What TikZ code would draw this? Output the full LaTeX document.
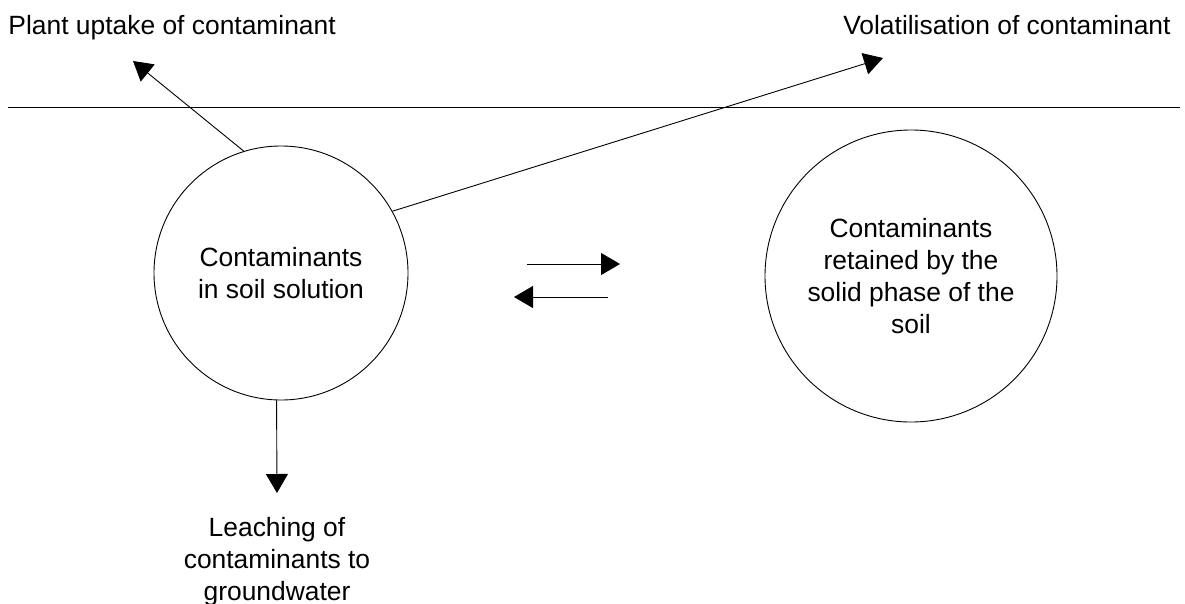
\documentclass[tikz,border=0pt]{standalone}
\usepackage{fontspec}
\setmainfont{Liberation Sans}
\usetikzlibrary{arrows.meta}
\tikzset{
  lbl/.style={font=\fontsize{26.4}{32}\selectfont, inner sep=0pt, align=center},
  pool/.style={circle, draw, lbl},
  flow/.style={-{Triangle[length=19pt,width=22pt]}}
}
\begin{document}
\begin{tikzpicture}[x=1pt,y=-1pt,line width=0.9pt]
\useasboundingbox (0,0) rectangle (1185,603);
\node[pool,minimum size=254pt] (S) at (281,273) {Contaminants\\in soil solution};
\node[pool,minimum size=292pt] (R) at (911,276) {Contaminants\\retained by the\\solid phase of the\\soil};
\node[lbl,anchor=base west] (P) at (8,34) {Plant uptake of contaminant};
\node[lbl,anchor=base east] (V) at (1171,34) {Volatilisation of contaminant};
\node[lbl,anchor=base] (L) at (277,600) {Leaching of\\contaminants to\\groundwater};
\coordinate (G1) at (8,107);
\coordinate (G2) at (1180,107);
\coordinate (P1) at (133,61);
\coordinate (V1) at (883,58);
\coordinate (L1) at (277,493);
\coordinate (F1) at (527,264);
\coordinate (F2) at (620,264);
\coordinate (B1) at (608,297);
\coordinate (B2) at (514,297);
\draw (G1) -- (G2);
\path
  (S.107) edge[flow] (P1)
  (S.29) edge[flow] (V1)
  (S.268) edge[flow] (L1)
  (F1) edge[flow] (F2)
  (B1) edge[flow] (B2)
;
\end{tikzpicture}
\end{document}
